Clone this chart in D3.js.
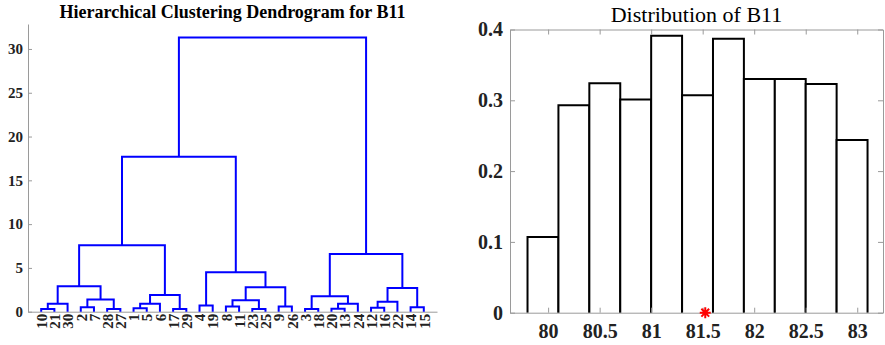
<!DOCTYPE html>
<html>
<head>
<meta charset="utf-8">
<script src="https://cdn.jsdelivr.net/npm/d3@7"></script>
<style>
  body { margin: 0; background: #fff; }
  svg { display: block; }
  .axis path, .axis line { stroke: #9a9a9a; }
  .axis text { fill: #222; font-weight: bold; }
</style>
</head>
<body>
<div id="chart"></div>
<script>
// dendrogram: leaf order along the x axis and the merges (left, right, height)
const leafOrder = ['10', '21', '30', '2', '7', '28', '27', '1', '5', '6', '17', '29', '4', '19',
  '8', '11', '23', '25', '9', '26', '3', '18', '20', '13', '24', '12', '16', '22', '14', '15']
const merges = [
  ['10', '21', 0.3], ['m0', '30', 0.9], ['2', '7', 0.5], ['28', '27', 0.3],
  ['m2', 'm3', 1.4], ['m1', 'm4', 2.9], ['1', '5', 0.4], ['m6', '6', 0.9],
  ['17', '29', 0.3], ['m7', 'm8', 1.9], ['m5', 'm9', 7.6], ['4', '19', 0.7],
  ['8', '11', 0.6], ['23', '25', 0.3], ['m12', 'm13', 1.3], ['9', '26', 0.6],
  ['m14', 'm15', 2.8], ['m11', 'm16', 4.5], ['m10', 'm17', 17.7], ['3', '18', 0.3],
  ['20', '13', 0.35], ['m20', '24', 0.9], ['m19', 'm21', 1.75], ['12', '16', 0.45],
  ['m23', '22', 1.15], ['14', '15', 0.5], ['m24', 'm25', 2.7], ['m22', 'm26', 6.6],
  ['m18', 'm27', 31.3]
]
const dendroTicks = [0, 5, 10, 15, 20, 25, 30]

// histogram of B11
const binEdges = [79.8, 80.1, 80.4, 80.7, 81.0, 81.3, 81.6, 81.9, 82.2, 82.5, 82.8, 83.1]
const binValues = [0.107, 0.293, 0.324, 0.301, 0.391, 0.307, 0.387, 0.330, 0.330, 0.323, 0.244]
const markerValue = 81.525
const histXTicks = [80, 80.5, 81, 81.5, 82, 82.5, 83]
const histYTicks = [0, 0.1, 0.2, 0.3, 0.4]

const width = 885
const height = 345
const serif = '"Liberation Serif", "Times New Roman", serif'

const svg = d3.select('#chart').append('svg')
  .attr('width', width)
  .attr('height', height)
  .attr('font-family', serif)

// ---- left: dendrogram ----
const dx = d3.scaleLinear().domain([0, leafOrder.length + 1]).range([28, 437])
const dy = d3.scaleLinear().domain([0, 32.85]).range([311.7, 24])

// build the tree from the merge list
const nodes = {}
leafOrder.forEach(name => { nodes[name] = { name, height: 0 } })
merges.forEach((m, i) => {
  nodes['m' + i] = { name: 'm' + i, height: m[2], children: [nodes[m[0]], nodes[m[1]]] }
})
const root = d3.hierarchy(nodes['m' + (merges.length - 1)])
root.eachAfter(n => {
  if (n.children) n.px = d3.mean(n.children, c => c.px)
  else n.px = dx(leafOrder.indexOf(n.data.name) + 1)
})

const dendro = svg.append('g')

dendro.append('g')
  .attr('class', 'axis')
  .attr('transform', `translate(0,${dy(0)})`)
  .call(d3.axisBottom(dx)
    .tickValues(leafOrder.map((d, i) => i + 1))
    .tickFormat(i => leafOrder[i - 1])
    .tickSize(0)
    .tickSizeOuter(0))
  .attr('font-family', serif)
  .attr('font-size', 15)
  .selectAll('text')
  .attr('transform', 'rotate(-90)')
  .attr('text-anchor', 'end')
  .attr('x', -2)
  .attr('y', 0)
  .attr('dy', '0.35em')

dendro.append('g')
  .attr('class', 'axis')
  .attr('transform', `translate(${dx(0)},0)`)
  .call(d3.axisLeft(dy).tickValues(dendroTicks).tickSize(-4).tickSizeOuter(0).tickPadding(5))
  .attr('font-family', serif)
  .attr('font-size', 15)

dendro.selectAll('.link')
  .data(root.descendants().filter(n => n.children))
  .enter().append('path')
  .attr('class', 'link')
  .attr('fill', 'none')
  .attr('stroke', '#0000ff')
  .attr('stroke-width', 2)
  .attr('d', n => {
    const [a, b] = n.children
    return `M${a.px},${dy(a.data.height)}V${dy(n.data.height)}H${b.px}V${dy(b.data.height)}`
  })

dendro.append('text')
  .attr('x', (dx.range()[0] + dx.range()[1]) / 2)
  .attr('y', 18)
  .attr('text-anchor', 'middle')
  .attr('font-weight', 'bold')
  .attr('font-size', 18)
  .text('Hierarchical Clustering Dendrogram for B11')

// ---- right: histogram ----
const hx = d3.scaleLinear().domain([79.63, 83.25]).range([510, 883])
const hy = d3.scaleLinear().domain([0, 0.4]).range([312.7, 29.5])

const hist = svg.append('g')

hist.selectAll('.bar')
  .data(binValues)
  .enter().append('path')
  .attr('class', 'bar')
  .attr('fill', '#fff')
  .attr('stroke', '#000')
  .attr('stroke-width', 2)
  .attr('d', (d, i) => `M${hx(binEdges[i])},${hy(0)}V${hy(d)}H${hx(binEdges[i + 1])}V${hy(0)}`)

hist.append('g')
  .attr('class', 'axis')
  .attr('transform', `translate(0,${hy(0)})`)
  .call(d3.axisBottom(hx).tickValues(histXTicks).tickFormat(d => d).tickSize(-5).tickSizeOuter(0).tickPadding(11))
  .attr('font-family', serif)
  .attr('font-size', 20)

hist.append('g')
  .attr('class', 'axis')
  .attr('transform', `translate(0,${hy(0.4)})`)
  .call(d3.axisTop(hx).tickValues(histXTicks).tickFormat('').tickSize(-5).tickSizeOuter(0))

hist.append('g')
  .attr('class', 'axis')
  .attr('transform', `translate(${hx.range()[0]},0)`)
  .call(d3.axisLeft(hy).tickValues(histYTicks).tickFormat(d => d).tickSize(-5).tickSizeOuter(0).tickPadding(7))
  .attr('font-family', serif)
  .attr('font-size', 20)

hist.append('g')
  .attr('class', 'axis')
  .attr('transform', `translate(${hx.range()[1]},0)`)
  .call(d3.axisRight(hy).tickValues(histYTicks).tickFormat('').tickSize(-5).tickSizeOuter(0))

// red star marking the sample value
const star = d3.path()
const r = 5.5
for (let k = 0; k < 4; k++) {
  const a = k * Math.PI / 4
  star.moveTo(-r * Math.cos(a), -r * Math.sin(a))
  star.lineTo(r * Math.cos(a), r * Math.sin(a))
}
hist.append('path')
  .attr('d', star.toString())
  .attr('transform', `translate(${hx(markerValue)},${hy(0)})`)
  .attr('stroke', '#ff0000')
  .attr('stroke-width', 2)
  .attr('fill', 'none')

hist.append('text')
  .attr('x', (hx.range()[0] + hx.range()[1]) / 2)
  .attr('y', 22)
  .attr('text-anchor', 'middle')
  .attr('font-size', 22)
  .text('Distribution of B11')
</script>
</body>
</html>
